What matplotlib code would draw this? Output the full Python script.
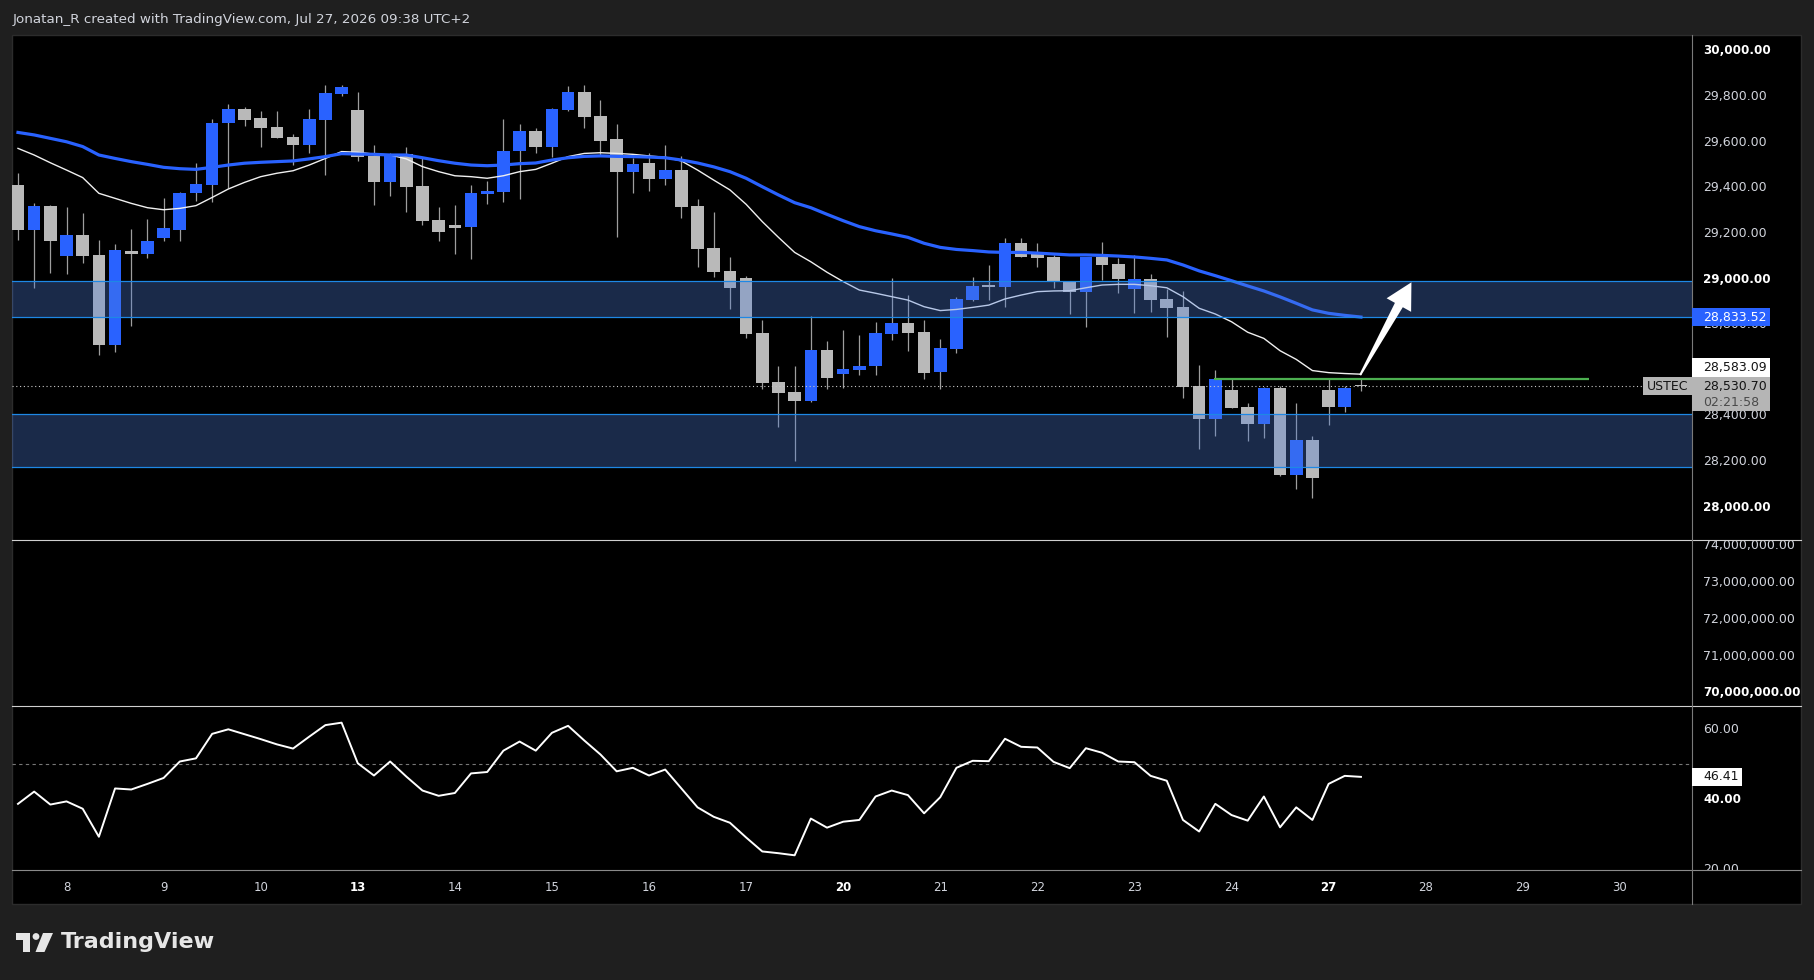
import matplotlib
matplotlib.use("Agg")
import matplotlib.pyplot as plt
from matplotlib.patches import Rectangle, Polygon, Circle
import numpy as np

W, H = 1815, 980

# ---------------- data (4h candles, USTEC) ----------------
opens = [29413, 29215, 29321, 29101, 29193, 29106, 28711, 29123, 29110, 29180,
         29215, 29379, 29413, 29686, 29746, 29706, 29667, 29623, 29589, 29699,
         29813, 29741, 29540, 29427, 29549, 29408, 29259, 29237, 29230, 29375,
         29383, 29563, 29649, 29581, 29743, 29820, 29715, 29614, 29471, 29509,
         29440, 29478, 29321, 29136, 29036, 29005, 28764, 28549, 28505, 28467,
         28689, 28586, 28603, 28621, 28761, 28808, 28768, 28594, 28695, 28908,
         28970, 28967, 29158, 29114, 29097, 28989, 28945, 29097, 29066, 28958,
         29000, 28913, 28878, 28531, 28388, 28514, 28439, 28366, 28523, 28143,
         28295, 28514, 28441, 28537]
highs = [29464, 29332, 29325, 29316, 29290, 29171, 29154, 29220, 29264, 29356,
         29383, 29509, 29702, 29768, 29755, 29737, 29737, 29635, 29746, 29851,
         29851, 29820, 29588, 29551, 29579, 29531, 29316, 29325, 29413, 29430,
         29702, 29680, 29663, 29750, 29847, 29851, 29785, 29680, 29532, 29553,
         29588, 29540, 29351, 29296, 29097, 29014, 28821, 28619, 28619, 28838,
         28729, 28777, 28755, 28812, 29005, 28930, 28821, 28737, 28922, 29009,
         29062, 29180, 29180, 29158, 29106, 28992, 29097, 29163, 29093, 29106,
         29022, 28957, 28948, 28623, 28602, 28562, 28457, 28527, 28531, 28457,
         28312, 28562, 28531, 28562]
lows = [29171, 28963, 29028, 29022, 29072, 28667, 28682, 28796, 29094, 29169,
        29169, 29342, 29340, 29398, 29673, 29581, 29620, 29502, 29554, 29458,
        29804, 29519, 29326, 29366, 29296, 29239, 29169, 29112, 29087, 29331,
        29340, 29353, 29554, 29537, 29738, 29664, 29544, 29186, 29379, 29388,
        29414, 29269, 29055, 29011, 28870, 28743, 28517, 28353, 28204, 28463,
        28517, 28524, 28580, 28581, 28735, 28686, 28564, 28520, 28678, 28904,
        28908, 28878, 29095, 29055, 28961, 28849, 28792, 28996, 28939, 28853,
        28857, 28748, 28480, 28257, 28314, 28436, 28292, 28305, 28138, 28081,
        28042, 28362, 28419, 28511]
closes = [29215, 29321, 29169, 29193, 29101, 28711, 29128, 29112, 29167, 29224,
          29378, 29417, 29683, 29746, 29699, 29664, 29620, 29589, 29702, 29816,
          29842, 29537, 29427, 29549, 29405, 29256, 29208, 29226, 29378, 29386,
          29562, 29649, 29581, 29746, 29820, 29712, 29607, 29471, 29505, 29440,
          29478, 29318, 29133, 29033, 28963, 28761, 28546, 28502, 28467, 28689,
          28568, 28606, 28619, 28764, 28808, 28765, 28590, 28698, 28913, 28970,
          28967, 29158, 29098, 29094, 28992, 28945, 29097, 29063, 29000, 29000,
          28910, 28875, 28528, 28388, 28562, 28436, 28366, 28523, 28143, 28295,
          28130, 28441, 28523, 28530.7]
ema_fast = [29573, 29544, 29510, 29478, 29445, 29376, 29354, 29332, 29313, 29304,
            29310, 29322, 29358, 29395, 29424, 29449, 29464, 29475, 29500, 29529,
            29559, 29556, 29548, 29544, 29527, 29493, 29471, 29453, 29449, 29442,
            29453, 29471, 29481, 29508, 29537, 29551, 29554, 29551, 29547, 29540,
            29534, 29518, 29478, 29434, 29391, 29328, 29252, 29183, 29117, 29076,
            29030, 28989, 28952, 28938, 28923, 28908, 28879, 28862, 28867, 28876,
            28886, 28913, 28930, 28945, 28948, 28949, 28962, 28974, 28977, 28977,
            28971, 28962, 28923, 28872, 28847, 28813, 28767, 28740, 28686, 28648,
            28599, 28590, 28586, 28583.09]
ema_slow = [29643, 29632, 29617, 29602, 29581, 29544, 29529, 29515, 29503, 29490,
            29484, 29481, 29490, 29500, 29508, 29512, 29515, 29518, 29527, 29537,
            29550, 29548, 29547, 29544, 29544, 29532, 29519, 29508, 29500, 29497,
            29500, 29506, 29509, 29522, 29532, 29538, 29540, 29538, 29537, 29535,
            29532, 29522, 29509, 29492, 29471, 29442, 29405, 29369, 29335, 29313,
            29284, 29256, 29230, 29212, 29198, 29183, 29157, 29139, 29130, 29125,
            29119, 29117, 29117, 29114, 29110, 29106, 29106, 29104, 29101, 29097,
            29091, 29084, 29062, 29036, 29015, 28993, 28970, 28948, 28922, 28894,
            28865, 28850, 28841, 28833.52]
rsi = [38.7, 42.2, 38.5, 39.4, 37.3, 29.3, 43.1, 42.8, 44.4, 46.1,
       50.8, 51.7, 58.7, 60.0, 58.6, 57.2, 55.7, 54.5, 57.9, 61.2,
       61.9, 50.3, 46.8, 50.8, 46.5, 42.5, 41.0, 41.8, 47.4, 47.8,
       53.9, 56.5, 53.9, 59.0, 61.0, 56.8, 52.8, 48.0, 49.0, 46.8,
       48.5, 43.1, 37.7, 35.0, 33.3, 29.1, 25.1, 24.6, 24.0, 34.5,
       31.9, 33.6, 34.1, 40.8, 42.5, 41.2, 36.0, 40.6, 49.0, 51.0,
       50.9, 57.3, 55.0, 54.8, 50.7, 48.9, 54.6, 53.3, 50.8, 50.6,
       46.7, 45.3, 34.1, 30.8, 38.7, 35.5, 33.9, 40.8, 32.0, 37.7,
       34.1, 44.4, 46.7, 46.41]

day_labels = ['8', '9', '10', '13', '14', '15', '16', '17', '20', '21',
              '22', '23', '24', '27', '28', '29', '30']
day_first_bar = [3, 9, 15, 21, 27, 33, 39, 45, 51, 57, 63, 69, 75, 81, 87, 93, 99]
bold_days = ['13', '20', '27']

price_ticks = [30000, 29800, 29600, 29400, 29200, 29000, 28800, 28600, 28400, 28200, 28000]
bold_price_ticks = [30000, 29000, 28000]
volume_ticks = [74e6, 73e6, 72e6, 71e6, 70e6]
bold_volume_ticks = [70e6]
rsi_ticks = [60, 40, 20]
bold_rsi_ticks = [40]

zones = [(28832, 28990), (28175, 28407)]
green_level = 28562
green_span = (73.9, 97.1)
arrow_start = (82.95, 28579)
arrow_end = (86.12, 28986)
symbol = 'USTEC'
countdown = '02:21:58'
header = 'Jonatan_R created with TradingView.com, Jul 27, 2026 09:38 UTC+2'

# ---------------- figure ----------------
BG = '#1f1f1f'
BLUE = '#2962ff'
GREY = '#b9b9b9'
TXT = '#d1d4dc'

fig = plt.figure(figsize=(W / 100, H / 100), dpi=100, facecolor=BG)


def px_axes(x0, y0, x1, y1):
    return fig.add_axes([x0 / W, 1 - y1 / H, (x1 - x0) / W, (y1 - y0) / H])


bg = px_axes(0, 0, W, H)
bg.set_xlim(0, W)
bg.set_ylim(H, 0)
bg.axis('off')
bg.set_zorder(-5)
bg.add_patch(Rectangle((12, 35), 1789, 869, fc='black', ec='#2c2c2c', lw=1))
bg.text(13, 19, header, color=TXT, fontsize=9.7, va='center', ha='left')

# TradingView logo
LC = '#e6e6e6'
bg.add_patch(Rectangle((16, 933), 14, 6.5, fc=LC, ec='none'))
bg.add_patch(Rectangle((23.5, 933), 6.5, 19, fc=LC, ec='none'))
bg.add_patch(Circle((36, 936.5), 3.4, fc=LC, ec='none'))
bg.add_patch(Polygon([(43, 933), (53, 933), (44.5, 952), (35.5, 952)], closed=True, fc=LC, ec='none'))
bg.text(61, 942, 'TradingView', color=LC, fontsize=16, fontweight='bold', va='center', ha='left')

XL = (-0.37, 103.46)
ax = px_axes(12, 35, 1692, 540)
ax_vol = px_axes(12, 540, 1692, 706)
ax_rsi = px_axes(12, 706, 1692, 870)
for a in (ax, ax_vol, ax_rsi):
    a.set_facecolor('none')
    a.set_xlim(*XL)
    a.axis('off')
ax.set_ylim(27856.2, 30070.1)
ax_vol.set_ylim(69.64e6, 74.163e6)
ax_rsi.set_ylim(19.8, 66.66)

x = np.arange(len(closes))
O = np.array(opens, float)
Hh = np.array(highs, float)
L = np.array(lows, float)
C = np.array(closes, float)

# candles
ax.vlines(x, L, Hh, color='#9e9e9e', lw=0.9, zorder=2)
body_bottom = np.minimum(O, C)
body_h = np.maximum(np.abs(C - O), 6)
cols = np.where(C >= O, BLUE, GREY)
ax.bar(x, body_h, bottom=body_bottom, width=0.78, color=cols, linewidth=0, zorder=3)

# moving averages
ax.plot(x, ema_fast, color='#f0f0f0', lw=1.0, zorder=4, solid_joinstyle='round')
ax.plot(x, ema_slow, color=BLUE, lw=2.3, zorder=4, solid_joinstyle='round')

# zones
for lo, hi in zones:
    ax.axhspan(lo, hi, fc=(0.30, 0.49, 0.85, 0.34), ec='none', zorder=5)
    ax.axhline(lo, color='#1e88e5', lw=0.9, zorder=5.5)
    ax.axhline(hi, color='#1e88e5', lw=0.9, zorder=5.5)

# current price line
ax.axhline(closes[-1], color='#c8c8c8', lw=0.8, dashes=(1.0, 2.4), zorder=6)
# green level
ax.hlines(green_level, green_span[0], green_span[1], color='#4caf50', lw=1.6, zorder=6)

# RSI
ax_rsi.axhline(50, color='#777777', lw=0.8, dashes=(3, 3), zorder=1)
ax_rsi.plot(x, rsi, color='white', lw=1.4, zorder=3, solid_joinstyle='round')

# ---------------- overlay (pixel coordinates) ----------------
ov = px_axes(0, 0, W, H)
ov.set_xlim(0, W)
ov.set_ylim(H, 0)
ov.axis('off')
ov.set_zorder(10)
ov.patch.set_alpha(0)


def ypix(a, v):
    return H - a.transData.transform((0, v))[1]


def xpix(a, v):
    return a.transData.transform((v, 0))[0]


def clip_to(t, x0, y0, x1, y1):
    r = Rectangle((x0, y0), x1 - x0, y1 - y0, transform=ov.transData)
    t.set_clip_path(r)
    t.set_clip_on(True)


# separators
ov.plot([12, 1801], [540, 540], color='#d0d0d0', lw=0.8)
ov.plot([12, 1801], [706, 706], color='#d0d0d0', lw=0.8)
ov.plot([12, 1801], [870, 870], color='#8a8a8a', lw=0.8)
ov.plot([1692, 1692], [35, 904], color='#7a7a7a', lw=0.8)

LX = 1703


def tick_label(y, s, bold, box):
    t = ov.text(LX, y, s, color='white' if bold else TXT,
                fontsize=8.6 if bold else 9, fontweight='bold' if bold else 'normal',
                va='center', ha='left', zorder=1)
    clip_to(t, *box)


for v in price_ticks:
    tick_label(ypix(ax, v), f'{v:,.2f}', v in bold_price_ticks, (1692, 35, 1801, 540))
for v in volume_ticks:
    tick_label(ypix(ax_vol, v), f'{v:,.2f}', v in bold_volume_ticks, (1692, 540, 1801, 706))
for v in rsi_ticks:
    tick_label(ypix(ax_rsi, v), f'{v:.2f}', v in bold_rsi_ticks, (1692, 706, 1801, 870))

# time labels
for lab, bi in zip(day_labels, day_first_bar):
    b = lab in bold_days
    ov.text(xpix(ax, bi), 887.5, lab, color='white' if b else TXT, fontsize=8.5,
            fontweight='bold' if b else 'normal', va='center', ha='center')

# price labels on axis
gy = ypix(ax, closes[-1])
ov.add_patch(Rectangle((1692, gy - 9), 78, 34, fc='#b5b5b5', ec='none', zorder=3))
ov.text(LX, gy, f'{closes[-1]:,.2f}', color='#141414', fontsize=9, va='center', ha='left', zorder=4)
ov.text(LX, gy + 16, countdown, color='#4a4a4a', fontsize=9, va='center', ha='left', zorder=4)
ov.add_patch(Rectangle((1643, gy - 9), 49, 18, fc='#b5b5b5', ec='none', zorder=3))
ov.text(1667.5, gy, symbol, color='#141414', fontsize=9, va='center', ha='center', zorder=4)

wy = min(ypix(ax, ema_fast[-1]), gy - 9 - 9.5)
ov.add_patch(Rectangle((1692, wy - 9.5), 78, 19, fc='white', ec='none', zorder=3))
ov.text(LX, wy, f'{ema_fast[-1]:,.2f}', color='#141414', fontsize=9, va='center', ha='left', zorder=4)

by = ypix(ax, ema_slow[-1])
ov.add_patch(Rectangle((1692, by - 9), 78, 18, fc=BLUE, ec='none', zorder=3))
ov.text(LX, by, f'{ema_slow[-1]:,.2f}', color='white', fontsize=9, va='center', ha='left', zorder=4)

ry = ypix(ax_rsi, rsi[-1])
ov.add_patch(Rectangle((1692, ry - 9), 50, 18, fc='white', ec='none', zorder=3))
ov.text(LX, ry, f'{rsi[-1]:.2f}', color='#141414', fontsize=9, va='center', ha='left', zorder=4)

# arrow drawing
sx, sy = xpix(ax, arrow_start[0]), ypix(ax, arrow_start[1])
ex, ey = xpix(ax, arrow_end[0]), ypix(ax, arrow_end[1])
s = np.array([sx, sy])
e = np.array([ex, ey])
d = (e - s) / np.linalg.norm(e - s)
nrm = np.array([-d[1], d[0]])
base = e - d * 26
pts = [s + nrm * 1.0, base + nrm * 4.5, base + nrm * 14, e,
       base - nrm * 14, base - nrm * 4.5, s - nrm * 1.0]
ov.add_patch(Polygon(pts, closed=True, fc='white', ec='none', zorder=5))

fig.savefig('out.png', dpi=100, facecolor=BG)
